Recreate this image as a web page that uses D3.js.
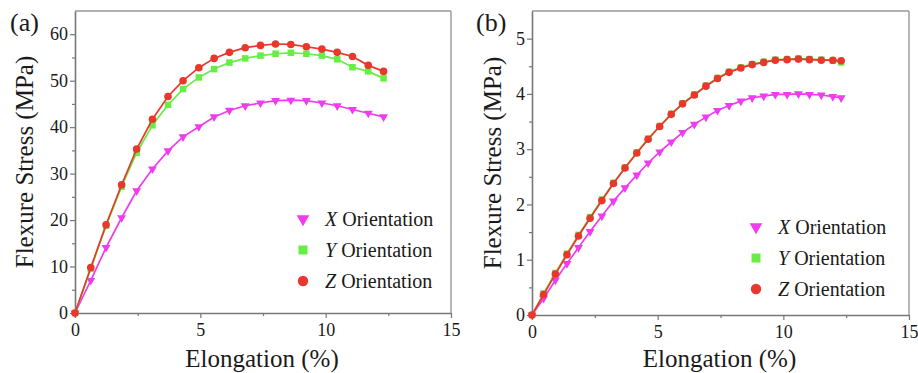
<!DOCTYPE html>
<html>
<head>
<meta charset="utf-8">
<script src="https://cdn.jsdelivr.net/npm/d3@7"></script>
<style>
  html, body { margin: 0; padding: 0; background: #fff; }
  svg { display: block; }
  text { font-family: "Liberation Serif", "Times New Roman", serif; fill: #1a1a1a; }
</style>
</head>
<body>
<svg id="chart" width="918" height="373"></svg>
<script>
// ---------- Data ----------
const seriesNames = ["X", "Y", "Z"];
const legendSuffix = " Orientation";

// Panel (a)
const elongA = [0, 0.63, 1.24, 1.86, 2.46, 3.09, 3.71, 4.31, 4.94, 5.55, 6.16, 6.79, 7.40, 8.00, 8.61, 9.23, 9.85, 10.46, 11.07, 11.70, 12.31];
const stressAX = [0, 7.0, 14.1, 20.5, 26.3, 31.0, 34.9, 37.9, 40.1, 42.2, 43.6, 44.6, 45.2, 45.7, 45.8, 45.7, 45.2, 44.6, 43.8, 43.0, 42.2];
const stressAY = [0, 9.5, 18.8, 27.2, 34.5, 40.4, 44.8, 48.2, 50.7, 52.5, 53.9, 54.8, 55.4, 55.8, 56.0, 55.8, 55.4, 54.6, 52.9, 52.0, 50.5];
const stressAZ = [0, 9.8, 19.0, 27.6, 35.3, 41.7, 46.6, 50.0, 52.8, 54.8, 56.1, 57.1, 57.6, 57.9, 57.8, 57.3, 56.8, 56.1, 55.2, 53.3, 52.0];

// Panel (b)
const elongB = [0, 0.46, 0.93, 1.39, 1.85, 2.31, 2.78, 3.24, 3.70, 4.17, 4.62, 5.08, 5.54, 5.99, 6.46, 6.92, 7.38, 7.84, 8.31, 8.76, 9.22, 9.68, 10.15, 10.60, 11.04, 11.51, 11.97, 12.30];
const stressBX = [0, 0.30, 0.63, 0.93, 1.22, 1.51, 1.79, 2.06, 2.30, 2.53, 2.75, 2.95, 3.13, 3.30, 3.45, 3.58, 3.70, 3.79, 3.87, 3.93, 3.96, 3.99, 3.99, 4.00, 3.99, 3.98, 3.95, 3.93];
const stressBY = [0, 0.39, 0.76, 1.11, 1.45, 1.77, 2.09, 2.39, 2.67, 2.94, 3.19, 3.42, 3.64, 3.83, 3.99, 4.15, 4.29, 4.40, 4.48, 4.54, 4.58, 4.62, 4.63, 4.64, 4.63, 4.62, 4.60, 4.57];
const stressBZ = [0, 0.37, 0.74, 1.09, 1.43, 1.75, 2.07, 2.38, 2.66, 2.93, 3.18, 3.41, 3.63, 3.82, 3.98, 4.14, 4.28, 4.39, 4.47, 4.53, 4.57, 4.61, 4.62, 4.63, 4.62, 4.61, 4.61, 4.60];

const xMajorTicks = [0, 5, 10, 15];
const xMinorTicks = [2.5, 7.5, 12.5];
const yMajorTicksA = [0, 10, 20, 30, 40, 50, 60];
const yMinorTicksA = [5, 15, 25, 35, 45, 55];
const yMajorTicksB = [0, 1, 2, 3, 4, 5];
const yMinorTicksB = [0.5, 1.5, 2.5, 3.5, 4.5];

const xTitle = "Elongation (%)";
const yTitle = "Flexure Stress (MPa)";

// ---------- Styles ----------
const colors = { X: "#ee3cee", Y: "#66ee44", Z: "#e8372c" };
const axisColor = "#777";
const serif = "Liberation Serif, Times New Roman, serif";

const svg = d3.select("#chart");

function drawPanel(cfg) {
  const { left, right, top, bottom, xDomain, yDomain, xData, ySeries, yMaj, yMin, label, labelX, legendX, legendY, legendGap, yTitleX } = cfg;
  const x = d3.scaleLinear().domain(xDomain).range([left, right]);
  const y = d3.scaleLinear().domain(yDomain).range([bottom, top]);
  const g = svg.append("g");

  // frame top/right
  g.append("line").attr("x1", left).attr("x2", right).attr("y1", top).attr("y2", top)
    .attr("stroke", "#999").attr("stroke-width", 1.4);
  g.append("line").attr("x1", right).attr("x2", right).attr("y1", top).attr("y2", bottom)
    .attr("stroke", "#999").attr("stroke-width", 1.4);

  // x axis
  const xAx = g.append("g").attr("transform", `translate(0,${bottom})`)
    .call(d3.axisBottom(x).tickValues(xMajorTicks).tickSize(5).tickSizeOuter(0).tickFormat(d3.format("d")));
  g.append("g").attr("transform", `translate(0,${bottom})`)
    .call(d3.axisBottom(x).tickValues(xMinorTicks).tickSize(3).tickSizeOuter(0).tickFormat(""))
    .select(".domain").remove();
  // y axis
  const yAx = g.append("g").attr("transform", `translate(${left},0)`)
    .call(d3.axisLeft(y).tickValues(yMaj).tickSize(5).tickSizeOuter(0).tickFormat(d3.format("d")));
  g.append("g").attr("transform", `translate(${left},0)`)
    .call(d3.axisLeft(y).tickValues(yMin).tickSize(3).tickSizeOuter(0).tickFormat(""))
    .select(".domain").remove();

  g.selectAll(".domain").attr("stroke", axisColor).attr("stroke-width", 1.6);
  g.selectAll(".tick line").attr("stroke", axisColor).attr("stroke-width", 1.2);
  xAx.attr("font-family", serif);
  yAx.attr("font-family", serif);
  xAx.selectAll(".tick text").attr("font-size", 18).attr("font-family", serif).attr("fill", "#1a1a1a").attr("dy", "0.95em").attr("y", 6);
  yAx.selectAll(".tick text").attr("font-size", 18).attr("font-family", serif).attr("fill", "#1a1a1a").attr("x", -7);

  // series
  const order = ["X", "Y", "Z"];
  const line = d3.line().x((d) => x(d[0])).y((d) => y(d[1]));
  order.forEach((name) => {
    const pts = xData.map((v, i) => [v, ySeries[name][i]]);
    g.append("path").datum(pts).attr("d", line)
      .attr("fill", "none").attr("stroke", colors[name]).attr("stroke-width", 1.7);
    const sym = g.append("g");
    pts.forEach((p) => {
      drawMarker(sym, name, x(p[0]), y(p[1]), false);
    });
  });

  // legend
  order.forEach((name, i) => {
    const ly = legendY + i * legendGap;
    drawMarker(g, name, legendX, ly, true);
    const t = g.append("text").attr("x", legendX + 22).attr("y", ly + 7).attr("font-size", 20);
    t.append("tspan").attr("font-style", "italic").text(name);
    t.append("tspan").text(legendSuffix);
  });

  // panel label
  g.append("text").attr("x", labelX).attr("y", 31).attr("font-size", 26).text(label);

  // axis titles
  g.append("text").attr("x", (left + right) / 2 - 1).attr("y", 367).attr("text-anchor", "middle")
    .attr("font-size", 25).text(xTitle);
  g.append("text").attr("transform", `translate(${yTitleX},${(top + bottom) / 2}) rotate(-90)`)
    .attr("text-anchor", "middle").attr("font-size", 25).text(yTitle);
}

function drawMarker(sel, name, cx, cy, big) {
  const c = colors[name];
  if (name === "X") {
    sel.append("path").attr("d", d3.symbol().type(d3.symbolTriangle).size(big ? 70 : 34)())
      .attr("transform", `translate(${cx},${cy}) rotate(180)`).attr("fill", c);
  } else if (name === "Y") {
    const s = big ? 9 : 6.5;
    sel.append("rect").attr("x", cx - s / 2).attr("y", cy - s / 2).attr("width", s).attr("height", s).attr("fill", c);
  } else {
    sel.append("circle").attr("cx", cx).attr("cy", cy).attr("r", big ? 5.2 : 3.8).attr("fill", c);
  }
}

drawPanel({
  left: 75, right: 451, top: 11, bottom: 313,
  xDomain: [0, 15], yDomain: [0, 65],
  xData: elongA,
  ySeries: { X: stressAX, Y: stressAY, Z: stressAZ },
  yMaj: yMajorTicksA, yMin: yMinorTicksA,
  label: "(a)", labelX: 10,
  legendX: 303, legendY: 219, legendGap: 31,
  yTitleX: 33
});

drawPanel({
  left: 532, right: 909, top: 11, bottom: 315,
  xDomain: [0, 15], yDomain: [0, 5.5],
  xData: elongB,
  ySeries: { X: stressBX, Y: stressBY, Z: stressBZ },
  yMaj: yMajorTicksB, yMin: yMinorTicksB,
  label: "(b)", labelX: 476,
  legendX: 756, legendY: 227, legendGap: 31,
  yTitleX: 501
});
</script>
</body>
</html>
